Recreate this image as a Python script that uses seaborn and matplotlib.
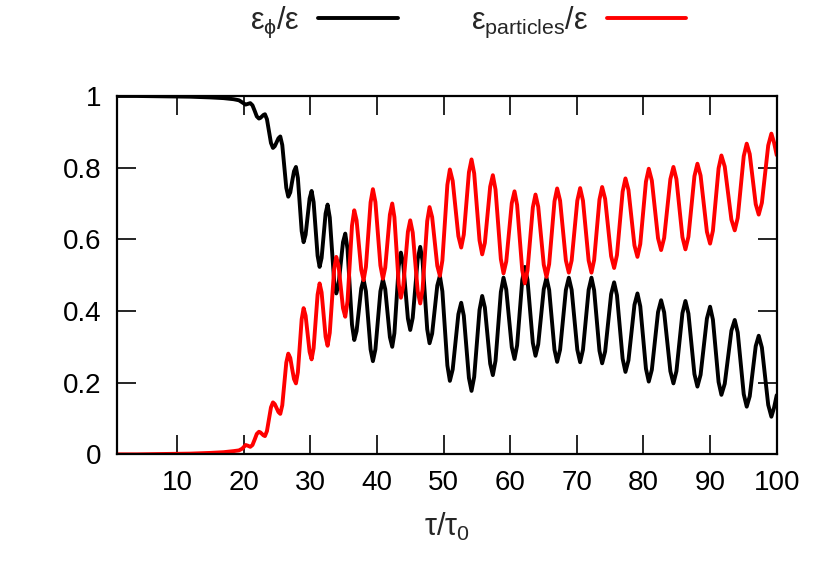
import matplotlib
matplotlib.use("Agg")
import matplotlib.pyplot as plt
import numpy as np
import pandas as pd
import seaborn as sns

# ---- data ----
tau = [
    1.0, 4.0, 8.0, 12.0, 15.0, 17.0, 18.5, 19.3, 19.8, 20.3, 20.65, 21.0,
    21.325, 21.65, 21.975, 22.3,
    22.525, 22.75, 22.975, 23.2,
    23.5, 23.8, 24.1, 24.4,
    24.675, 24.95, 25.225, 25.5,
    25.8, 26.1, 26.4, 26.7,
    27.0, 27.275, 27.56, 27.85,
    28.14, 28.425, 28.71, 29.0,
    29.3, 29.6, 29.9, 30.2,
    30.5, 30.8, 31.1, 31.4,
    31.7, 32.0, 32.3, 32.6,
    32.925, 33.25, 33.575, 33.9,
    34.24, 34.575, 34.91, 35.25,
    35.59, 35.925, 36.26, 36.6,
    36.95, 37.3, 37.65, 38.0,
    38.35, 38.7, 39.05, 39.4,
    39.775, 40.15, 40.525, 40.9,
    41.25, 41.6, 41.95, 42.3,
    42.625, 42.95, 43.275, 43.6,
    43.95, 44.3, 44.65, 45.0,
    45.375, 45.75, 46.125, 46.5,
    46.85, 47.2, 47.55, 47.9,
    48.29, 48.675, 49.06, 49.45,
    49.825, 50.2, 50.575, 50.95,
    51.375, 51.8, 52.225, 52.65,
    53.04, 53.425, 53.81, 54.2,
    54.6, 55.0, 55.4, 55.8,
    56.2, 56.6, 57.0, 57.4,
    57.8, 58.2, 58.6, 59.0,
    59.41, 59.825, 60.24, 60.65,
    61.04, 61.425, 61.81, 62.2,
    62.6, 63.0, 63.4, 63.8,
    64.21, 64.625, 65.04, 65.45,
    65.85, 66.25, 66.65, 67.05,
    67.49, 67.925, 68.36, 68.8,
    69.225, 69.65, 70.075, 70.5,
    70.925, 71.35, 71.775, 72.2,
    72.6, 73.0, 73.4, 73.8,
    74.25, 74.7, 75.15, 75.6,
    76.025, 76.45, 76.875, 77.3,
    77.75, 78.2, 78.65, 79.1,
    79.525, 79.95, 80.375, 80.8,
    81.26, 81.725, 82.19, 82.65,
    83.11, 83.575, 84.04, 84.5,
    84.95, 85.4, 85.85, 86.3,
    86.75, 87.2, 87.65, 88.1,
    88.575, 89.05, 89.525, 90.0,
    90.425, 90.85, 91.275, 91.7,
    92.2, 92.7, 93.2, 93.7,
    94.15, 94.6, 95.05, 95.5,
    95.95, 96.4, 96.85, 97.3,
    97.775, 98.25, 98.725, 99.2,
    99.6, 100.0,
]

eps_phi = [
    1.0, 1.0, 0.999, 0.998, 0.996, 0.994, 0.991, 0.988, 0.982, 0.976, 0.978, 0.980,
    0.974, 0.959, 0.943, 0.937,
    0.939, 0.943, 0.947, 0.949,
    0.935, 0.902, 0.869, 0.855,
    0.860, 0.871, 0.882, 0.887,
    0.863, 0.803, 0.744, 0.719,
    0.731, 0.761, 0.790, 0.802,
    0.771, 0.697, 0.623, 0.592,
    0.613, 0.664, 0.714, 0.735,
    0.704, 0.629, 0.554, 0.523,
    0.548, 0.610, 0.672, 0.697,
    0.661, 0.573, 0.485, 0.449,
    0.473, 0.533, 0.592, 0.616,
    0.573, 0.468, 0.362, 0.319,
    0.344, 0.404, 0.463, 0.488,
    0.455, 0.374, 0.293, 0.260,
    0.293, 0.374, 0.455, 0.488,
    0.461, 0.394, 0.327, 0.300,
    0.338, 0.432, 0.525, 0.563,
    0.532, 0.455, 0.379, 0.347,
    0.381, 0.463, 0.545, 0.579,
    0.540, 0.445, 0.349, 0.310,
    0.337, 0.404, 0.471, 0.498,
    0.455, 0.352, 0.248, 0.205,
    0.237, 0.314, 0.391, 0.423,
    0.387, 0.300, 0.213, 0.177,
    0.216, 0.310, 0.403, 0.442,
    0.410, 0.332, 0.253, 0.221,
    0.261, 0.357, 0.453, 0.493,
    0.460, 0.380, 0.299, 0.266,
    0.304, 0.395, 0.486, 0.523,
    0.487, 0.399, 0.311, 0.275,
    0.307, 0.384, 0.461, 0.493,
    0.459, 0.376, 0.292, 0.258,
    0.292, 0.376, 0.459, 0.493,
    0.459, 0.375, 0.292, 0.257,
    0.292, 0.375, 0.459, 0.493,
    0.458, 0.374, 0.289, 0.254,
    0.287, 0.367, 0.447, 0.480,
    0.444, 0.355, 0.267, 0.230,
    0.262, 0.340, 0.417, 0.449,
    0.413, 0.326, 0.239, 0.203,
    0.236, 0.317, 0.397, 0.430,
    0.396, 0.314, 0.232, 0.198,
    0.232, 0.313, 0.394, 0.428,
    0.393, 0.309, 0.224, 0.189,
    0.222, 0.301, 0.379, 0.412,
    0.376, 0.289, 0.202, 0.166,
    0.197, 0.271, 0.345, 0.375,
    0.340, 0.254, 0.168, 0.133,
    0.162, 0.232, 0.302, 0.331,
    0.298, 0.218, 0.138, 0.105,
    0.130, 0.165,
]

eps_particles = [
    0.0, 0.0, 0.001, 0.002, 0.004, 0.006, 0.009, 0.011, 0.016, 0.026, 0.024, 0.021,
    0.026, 0.041, 0.057, 0.063,
    0.061, 0.057, 0.053, 0.051,
    0.065, 0.098, 0.131, 0.145,
    0.140, 0.129, 0.118, 0.113,
    0.137, 0.197, 0.256, 0.281,
    0.269, 0.239, 0.210, 0.198,
    0.229, 0.303, 0.377, 0.408,
    0.387, 0.336, 0.286, 0.265,
    0.296, 0.371, 0.446, 0.477,
    0.452, 0.390, 0.328, 0.303,
    0.339, 0.427, 0.515, 0.551,
    0.527, 0.467, 0.408, 0.384,
    0.427, 0.532, 0.638, 0.681,
    0.653, 0.584, 0.515, 0.486,
    0.523, 0.613, 0.703, 0.740,
    0.704, 0.615, 0.527, 0.490,
    0.521, 0.595, 0.669, 0.700,
    0.662, 0.568, 0.475, 0.437,
    0.468, 0.545, 0.621, 0.653,
    0.619, 0.537, 0.455, 0.421,
    0.460, 0.555, 0.651, 0.690,
    0.662, 0.594, 0.526, 0.498,
    0.541, 0.647, 0.752, 0.795,
    0.763, 0.686, 0.609, 0.577,
    0.613, 0.700, 0.787, 0.823,
    0.784, 0.690, 0.597, 0.558,
    0.590, 0.668, 0.747, 0.779,
    0.739, 0.642, 0.545, 0.505,
    0.538, 0.620, 0.701, 0.734,
    0.696, 0.605, 0.514, 0.477,
    0.513, 0.601, 0.689, 0.725,
    0.691, 0.610, 0.529, 0.495,
    0.531, 0.619, 0.706, 0.742,
    0.708, 0.624, 0.541, 0.507,
    0.541, 0.625, 0.708, 0.743,
    0.708, 0.625, 0.541, 0.507,
    0.542, 0.626, 0.711, 0.746,
    0.713, 0.633, 0.553, 0.520,
    0.556, 0.645, 0.733, 0.770,
    0.738, 0.660, 0.583, 0.551,
    0.587, 0.674, 0.761, 0.797,
    0.764, 0.683, 0.603, 0.570,
    0.604, 0.686, 0.768, 0.802,
    0.768, 0.687, 0.606, 0.572,
    0.607, 0.691, 0.776, 0.811,
    0.778, 0.699, 0.621, 0.588,
    0.624, 0.711, 0.798, 0.834,
    0.803, 0.729, 0.655, 0.625,
    0.660, 0.746, 0.832, 0.867,
    0.838, 0.768, 0.698, 0.669,
    0.702, 0.782, 0.862, 0.895,
    0.870, 0.835,
]

series_names = [r"$\varepsilon_{\phi}/\varepsilon$",
                r"$\varepsilon_{\mathrm{particles}}/\varepsilon$"]
series_colors = ["#000000", "#ff0000"]
x_ticks = [10, 20, 30, 40, 50, 60, 70, 80, 90, 100]
y_ticks = [0, 0.2, 0.4, 0.6, 0.8, 1.0]
y_tick_labels = ["0", "0.2", "0.4", "0.6", "0.8", "1"]
x_label = r"$\tau/\tau_{0}$"

# ---- style ----
sns.set_style("ticks")
plt.rcParams["font.family"] = ["Liberation Sans", "DejaVu Sans"]
plt.rcParams["mathtext.fontset"] = "custom"
plt.rcParams["mathtext.rm"] = "Liberation Sans"
plt.rcParams["mathtext.it"] = "Liberation Sans"
plt.rcParams["mathtext.bf"] = "Liberation Sans:bold"
plt.rcParams["mathtext.sf"] = "Liberation Sans"

FS = 20
FS_TXT = 22

df = pd.DataFrame({
    "tau": tau + tau,
    "value": eps_phi + eps_particles,
    "series": [series_names[0]] * len(tau) + [series_names[1]] * len(tau),
})

fig = plt.figure(figsize=(8.3, 5.81), dpi=100)
ax = fig.add_axes([0.141, 0.218, 0.7948, 0.6168])

sns.lineplot(data=df, x="tau", y="value", hue="series",
             palette=dict(zip(series_names, series_colors)),
             estimator=None, linewidth=2.8, legend=False, ax=ax)

ax.set_xlim(1, 100)
ax.set_ylim(0, 1)
ax.set_xticks(x_ticks)
ax.set_xticklabels([str(t) for t in x_ticks])
ax.set_yticks(y_ticks)
ax.set_yticklabels(y_tick_labels)
ax.set_xlabel(x_label, fontsize=FS_TXT, labelpad=11)
ax.set_ylabel("")

for s in ax.spines.values():
    s.set_visible(True)
    s.set_linewidth(1.6)
    s.set_color("black")
ax.tick_params(axis="both", which="major", direction="in", length=14,
               width=1.2, top=True, right=True, labelsize=FS, pad=11,
               colors="black")

handles = ax.get_lines()[:2]
fig.legend(handles, series_names, loc="center", bbox_to_anchor=(0.564, 0.962),
           ncol=2, markerfirst=False, frameon=False, fontsize=FS_TXT,
           handlelength=2.6, handletextpad=0.6, columnspacing=2.4)

fig.savefig("out.png", dpi=100)
